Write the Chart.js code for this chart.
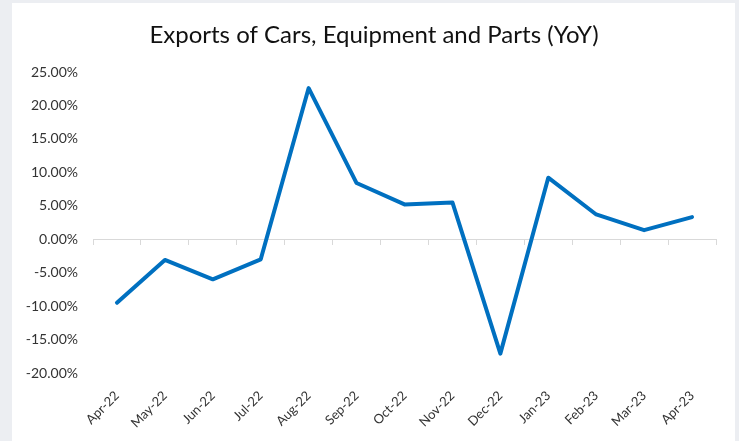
<!DOCTYPE html>
<html>
<head>
<meta charset="utf-8">
<script src="https://cdn.jsdelivr.net/npm/chart.js@4/dist/chart.umd.min.js"></script>
<style>
  html, body { margin: 0; padding: 0; background: #eceef2; }
  #wrap { position: relative; width: 739px; height: 441px; overflow: hidden; }
  #panel { position: absolute; left: 12px; top: 3px; width: 723px; height: 438px; background: #ffffff; }
  #c { position: absolute; left: 0; top: 0; }
</style>
</head>
<body>
<div id="wrap">
  <div id="panel"></div>
  <canvas id="c" width="739" height="441"></canvas>
</div>
<script>
const titleText = 'Exports of Cars, Equipment and Parts (YoY)';
const categories = ['Apr-22','May-22','Jun-22','Jul-22','Aug-22','Sep-22','Oct-22','Nov-22','Dec-22','Jan-23','Feb-23','Mar-23','Apr-23'];
const yoyValues = [-9.5, -3.1, -6.0, -3.0, 22.6, 8.4, 5.2, 5.5, -17.1, 9.2, 3.7, 1.35, 3.3];
const yMin = -20, yMax = 25, yStep = 5;

const FONT = 'Lato, "Open Sans", sans-serif';

new Chart(document.getElementById('c'), {
  type: 'line',
  data: {
    labels: categories,
    datasets: [{
      data: yoyValues,
      borderColor: '#0070c0',
      borderWidth: 4,
      pointRadius: 0,
      pointHoverRadius: 0,
      tension: 0,
      borderJoinStyle: 'round',
      borderCapStyle: 'round',
      fill: false,
      xAxisID: 'x',
      yAxisID: 'y'
    }]
  },
  options: {
    responsive: false,
    animation: false,
    events: [],
    layout: { padding: { left: 12, right: 3, top: 3, bottom: 0 } },
    plugins: {
      legend: { display: false },
      tooltip: { enabled: false },
      title: {
        display: true,
        text: titleText,
        color: '#111111',
        font: { family: FONT, size: 24, weight: 'normal', lineHeight: 1.2 },
        padding: { top: 17.5, bottom: 22.7 }
      }
    },
    scales: {
      x: {
        type: 'category',
        labels: categories,
        position: { y: 0 },
        offset: true,
        grid: {
          display: true,
          offset: true,
          drawOnChartArea: false,
          drawTicks: true,
          tickLength: 5,
          color: '#d9d9d9',
          lineWidth: 1
        },
        border: { display: true, color: '#d9d9d9', width: 1 },
        ticks: { display: false }
      },
      x2: {
        type: 'category',
        labels: categories,
        position: 'bottom',
        offset: true,
        grid: { display: false, drawTicks: false },
        border: { display: false },
        ticks: {
          autoSkip: false,
          maxRotation: 45,
          minRotation: 45,
          padding: 15,
          color: '#333333',
          font: { family: FONT, size: 13 }
        },
        afterFit: (s) => { s.height = 68; }
      },
      y: {
        type: 'linear',
        min: yMin,
        max: yMax,
        grid: { display: false, drawTicks: false },
        border: { display: false },
        ticks: {
          stepSize: yStep,
          padding: 15,
          color: '#333333',
          font: { family: FONT, size: 14 },
          callback: (v) => v.toFixed(2) + '%'
        },
        afterFit: (s) => { s.width = 81; }
      },
      yRightSpace: {
        type: 'linear',
        position: 'right',
        min: yMin,
        max: yMax,
        grid: { display: false, drawTicks: false },
        border: { display: false },
        ticks: { display: false },
        afterFit: (s) => { s.width = 20; }
      }
    }
  }
});
</script>
</body>
</html>
